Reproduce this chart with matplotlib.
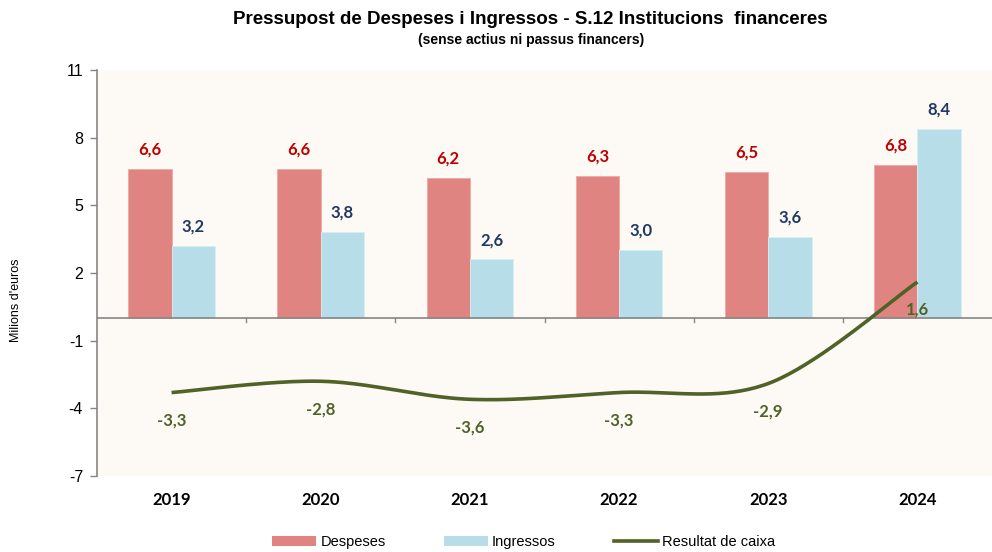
import numpy as np
import matplotlib
matplotlib.use("Agg")
import matplotlib.pyplot as plt
from matplotlib.lines import Line2D
from matplotlib.patches import Patch
import matplotlib.transforms as mtransforms

years = ["2019", "2020", "2021", "2022", "2023", "2024"]
despeses = [6.6, 6.6, 6.2, 6.3, 6.5, 6.8]
ingressos = [3.2, 3.8, 2.6, 3.0, 3.6, 8.4]
resultat = [-3.3, -2.8, -3.6, -3.3, -2.9, 1.6]
yticks = [11, 8, 5, 2, -1, -4, -7]

c_desp = "#E08482"
c_ingr = "#B7DEE8"
c_line = "#4F6228"
c_axis = "#868686"
bg = "#FDF9F4"

def fmt(v):
    return f"{v:.1f}".replace(".", ",")

def catmull_rom(x, y, n=40):
    x = np.asarray(x, float); y = np.asarray(y, float)
    px = np.concatenate([[x[0]], x, [x[-1]]])
    py = np.concatenate([[y[0]], y, [y[-1]]])
    xs, ys = [], []
    t = np.linspace(0, 1, n)
    for i in range(1, len(px) - 2):
        p0x, p1x, p2x, p3x = px[i-1], px[i], px[i+1], px[i+2]
        p0y, p1y, p2y, p3y = py[i-1], py[i], py[i+1], py[i+2]
        c1x = p1x + (p2x - p0x) / 6; c1y = p1y + (p2y - p0y) / 6
        c2x = p2x - (p3x - p1x) / 6; c2y = p2y - (p3y - p1y) / 6
        bx = (1-t)**3*p1x + 3*(1-t)**2*t*c1x + 3*(1-t)*t**2*c2x + t**3*p2x
        by = (1-t)**3*p1y + 3*(1-t)**2*t*c1y + 3*(1-t)*t**2*c2y + t**3*p2y
        xs.append(bx); ys.append(by)
    return np.concatenate(xs), np.concatenate(ys)

fig = plt.figure(figsize=(9.92, 5.52), dpi=100)
ax = fig.add_axes([97/992, 1-476/552, (992-97)/992, (476-70)/552])
ax.set_facecolor(bg)

x = np.arange(len(years))
w = 0.29
ax.bar(x - w/2, despeses, width=w, color=c_desp, edgecolor="#EBA9A7", linewidth=0.6, zorder=2)
ax.bar(x + w/2, ingressos, width=w, color=c_ingr, edgecolor="#D6EEF4", linewidth=0.6, zorder=2)

ax.axhline(0, color=c_axis, lw=1.2, zorder=3)

sx, sy = catmull_rom(x, resultat)
ax.plot(sx, sy, color=c_line, lw=2.6, solid_capstyle="butt", zorder=4)

lab_font = dict(family=["Lato", "DejaVu Sans"], fontweight="bold", fontsize=12)
for i in range(len(years)):
    ax.annotate(fmt(despeses[i]), (x[i] - w/2, despeses[i]), xytext=(0, 14),
                textcoords="offset points", ha="center", va="center", color="#C00000", **lab_font)
    ax.annotate(fmt(ingressos[i]), (x[i] + w/2, ingressos[i]), xytext=(0, 14),
                textcoords="offset points", ha="center", va="center", color="#1F3864", **lab_font)
    ax.annotate(fmt(resultat[i]), (x[i], resultat[i]), xytext=(0, -20),
                textcoords="offset points", ha="center", va="center", color=c_line, zorder=5, **lab_font)

ax.set_xlim(-0.5, len(years) - 0.5)
ax.set_ylim(-7, 11)
ax.set_yticks(yticks)
ax.set_yticklabels([str(v) for v in yticks], fontsize=11.5, family="Liberation Sans")
ax.tick_params(axis="y", length=5, color=c_axis, width=1, pad=5)
ax.set_xticks(np.arange(len(years) + 1) - 0.5)
ax.set_xticklabels([])
ax.tick_params(axis="x", length=0)
for b in np.arange(1, len(years)) - 0.5:
    ax.plot([b, b], [0, -0.18], color=c_axis, lw=1, zorder=3, clip_on=False)

for s in ["top", "right", "bottom"]:
    ax.spines[s].set_visible(False)
ax.spines["left"].set_color(c_axis)
ax.spines["left"].set_linewidth(1.2)

trans = mtransforms.blended_transform_factory(ax.transData, ax.transAxes)
for i, yr in enumerate(years):
    ax.text(x[i], -0.058, yr, transform=trans, ha="center", va="center",
            family=["Lato", "DejaVu Sans"], fontweight="bold", fontsize=12, color="black")

ax.set_ylabel("Milions d'euros", fontsize=9, family="Liberation Sans")
ax.yaxis.set_label_coords((22 - 97) / 895, (476 - 300) / 406)

fig.text(0.535, 0.965, "Pressupost de Despeses i Ingressos - S.12 Institucions  financeres",
         ha="center", va="center", fontsize=13.5, fontweight="bold", family="Liberation Sans")
fig.text(0.535, 0.928, "(sense actius ni passus financers)",
         ha="center", va="center", fontsize=10, fontweight="bold", family="Liberation Sans")

handles = [Patch(facecolor=c_desp, edgecolor="none"),
           Patch(facecolor=c_ingr, edgecolor="none"),
           Line2D([0], [0], color=c_line, lw=2.6)]
leg = fig.legend(handles, ["Despeses", "Ingressos", "Resultat de caixa"], loc="center",
                 bbox_to_anchor=(0.528, 0.018), ncol=3, frameon=False,
                 prop=dict(family="Liberation Sans", size=10.5), columnspacing=4.0,
                 handlelength=3.0, handleheight=0.7, handletextpad=0.3)

fig.savefig("out.png", dpi=100)
